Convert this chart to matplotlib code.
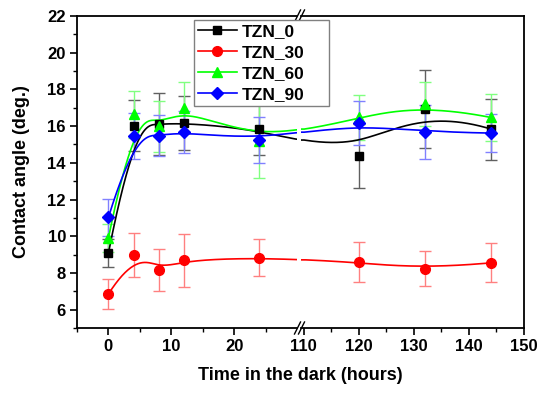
import numpy as np
import matplotlib.pyplot as plt
from matplotlib.lines import Line2D

plt.rcParams['font.family'] = ['Liberation Sans', 'DejaVu Sans']
plt.rcParams['font.weight'] = 'bold'

time = [0, 4, 8, 12, 24, 120, 132, 144]

tzn0 = [9.08, 16.03, 16.1, 16.17, 15.83, 14.38, 16.93, 15.84]
tzn0_err = [0.75, 1.4, 1.7, 1.45, 1.4, 1.76, 2.12, 1.66]
tzn30 = [6.85, 8.99, 8.17, 8.69, 8.84, 8.59, 8.23, 8.55]
tzn30_err = [0.82, 1.2, 1.15, 1.45, 1.03, 1.07, 0.96, 1.06]
tzn60 = [9.9, 16.65, 15.98, 17.0, 15.2, 16.47, 17.18, 16.47]
tzn60_err = [0.75, 1.28, 1.4, 1.38, 2.05, 1.2, 1.2, 1.3]
tzn90 = [11.03, 15.45, 15.48, 15.68, 15.25, 16.18, 15.68, 15.62]
tzn90_err = [1.0, 1.25, 1.1, 1.15, 1.25, 1.2, 1.47, 1.05]

labels = ['TZN_0', 'TZN_30', 'TZN_60', 'TZN_90']
colors = ['#000000', '#ff0000', '#00ff00', '#0000ff']
err_colors = ['#606060', '#ff8080', '#80ff80', '#8080ff']
markers = ['s', 'o', '^', 'D']
msizes = [6, 7, 7.5, 6]

left_ticks = [0, 10, 20]
left_minor = [-5, 5, 15, 25]
right_ticks = [110, 120, 130, 140, 150]
right_minor = [115, 125, 135, 145]
y_ticks = [6, 8, 10, 12, 14, 16, 18, 20, 22]

# axis break: left part -5..30, right part 109.5..150
brk = [0, 30, 110, 150]
virt = [0, 30, 30.7, 30.7 + 40 * 0.875]


def bspline(px, py, k=3, n=600):
    # clamped uniform cubic B-spline, data points used as control points (Origin style)
    m = len(px)
    knots = np.concatenate([np.zeros(k + 1), np.arange(1, m - k), np.full(k + 1, m - k)]).astype(float)
    s = np.linspace(0, m - k, n)
    s[-1] -= 1e-9
    B = np.array([(knots[i] <= s) & (s < knots[i + 1]) for i in range(len(knots) - 1)], float)
    for d in range(1, k + 1):
        Bn = np.zeros((len(knots) - 1 - d, n))
        for i in range(len(knots) - 1 - d):
            den1 = knots[i + d] - knots[i]
            den2 = knots[i + d + 1] - knots[i + 1]
            if den1 > 0:
                Bn[i] += (s - knots[i]) / den1 * B[i]
            if den2 > 0:
                Bn[i] += (knots[i + d + 1] - s) / den2 * B[i + 1]
        B = Bn
    return B.T @ np.asarray(px, float), B.T @ np.asarray(py, float)


fig = plt.figure(figsize=(5.5, 3.98), dpi=100)
W, H = 550, 398
bot, top = 328, 16
ax1 = fig.add_axes([77 / W, 1 - bot / H, (297 - 77) / W, (bot - top) / H])
ax2 = fig.add_axes([301 / W, 1 - bot / H, (524 - 301) / W, (bot - top) / H])
ax2.set_facecolor('none')

series = [(tzn0, tzn0_err), (tzn30, tzn30_err), (tzn60, tzn60_err), (tzn90, tzn90_err)]
u = np.interp(time, brk, virt)
for (vals, errs), c, ec, mk, ms in zip(series, colors, err_colors, markers, msizes):
    cu, cy = bspline(u, vals)
    cx = np.interp(cu, virt, brk)
    for ax in (ax1, ax2):
        ax.errorbar(time, vals, yerr=errs, fmt='none', ecolor=ec, elinewidth=1.0,
                    capsize=4, capthick=1.0, zorder=2)
        ax.plot(cx, cy, color=c, lw=1.2, zorder=3)
        ax.plot(time, vals, ls='none', marker=mk, ms=ms, color=c, zorder=4)

for ax in (ax1, ax2):
    ax.set_ylim(5, 22)
    for sp in ax.spines.values():
        sp.set_linewidth(1.3)
    ax.tick_params(which='major', direction='out', length=5, width=1.2, labelsize=12, pad=3)
    ax.tick_params(which='minor', direction='out', length=3, width=1.0)

ax1.set_xlim(-5, 30)
ax1.set_xticks(left_ticks)
ax1.set_xticks(left_minor, minor=True)
ax1.set_yticks(y_ticks)
ax1.set_yticks([y + 1 for y in y_ticks[:-1]] + [5], minor=True)
ax1.spines['right'].set_visible(False)

ax2.set_xlim(109.5, 150)
ax2.set_xticks(right_ticks)
ax2.set_xticks(right_minor, minor=True)
ax2.set_yticks(y_ticks)
ax2.spines['left'].set_visible(False)
ax2.tick_params(axis='y', which='both', left=False, labelleft=False)

for ax in (ax1, ax2):
    for lab in ax.get_xticklabels() + ax.get_yticklabels():
        lab.set_fontweight('bold')

# break marks
for yc in (top, bot):
    for xc in (297.5, 301.5):
        fig.add_artist(Line2D([(xc - 3) / W, (xc + 3) / W], [1 - (yc + 6) / H, 1 - (yc - 6) / H],
                              color='black', lw=1.0, transform=fig.transFigure))

fig.text(300 / W, 1 - 376 / H, 'Time in the dark (hours)', ha='center', va='center',
         fontsize=13, fontweight='bold')
fig.text(22 / W, 1 - 172 / H, 'Contact angle (deg.)', ha='center', va='center',
         rotation=90, fontsize=13, fontweight='bold')

handles = [Line2D([], [], color=c, marker=mk, ms=ms, lw=1.2)
           for c, mk, ms in zip(colors, markers, msizes)]
leg = fig.legend(handles, labels, loc='upper left',
                 bbox_to_anchor=(194 / W, 1 - 20 / H - 0.01, (329 - 194) / W, 0.01), mode='expand',
                 fancybox=False, framealpha=1, edgecolor='#808080',
                 handlelength=2.2, handletextpad=0.3, labelspacing=0.32, borderpad=0.25,
                 borderaxespad=0, prop={'weight': 'bold', 'size': 12.5})
leg.get_frame().set_linewidth(1.0)

fig.savefig('out.png', dpi=100)
